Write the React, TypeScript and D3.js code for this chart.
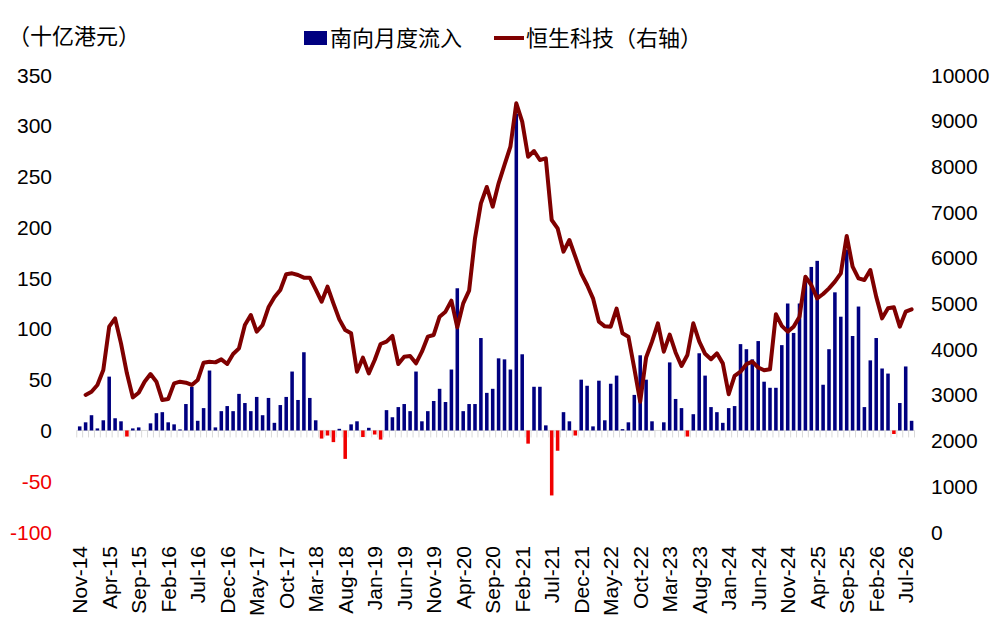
import * as d3 from "d3";

// 月份：Nov-14 起，共 142 个月
const startMonth = new Date(2014, 10, 1);
const monthCount = 142;
const months = d3.range(monthCount).map((i) => d3.timeMonth.offset(startMonth, i));
const fmtMonth = d3.timeFormat("%b-%y");

// 南向月度流入（十亿港元）
const flows = [
  4, 8, 15, 2, 10, 53, 12, 9, -6, 2, 3, 0, 7, 17, 18, 8, 6, 1, 26, 43,
  9.5, 22, 59, 3, 19, 24, 19, 36, 27, 19, 33, 15, 32, 7.5, 25, 33, 58, 30, 77, 32,
  10, -8, -5, -11.5, 1.6, -28, 6, 9, -6.5, 2.6, -4, -9, 20, 13, 23, 26, 19, 58, 9, 19,
  29, 41, 28, 60, 140, 19, 26, 26, 91, 37, 41, 71, 70, 60, 312, 75, -13, 43, 43, 5,
  -64, -20, 18, 9, -5, 50, 44, 4, 49, 10, 46, 54, 1.3, 8, 35, 74, 50, 9, 0, 8,
  67, 31, 22, -6, 16, 76, 54, 23, 18, 7.5, 22, 24, 85, 80, 70, 88, 48, 42, 42, 84,
  125, 96, 125, 146, 161, 167, 45, 80, 136, 112, 178, 93, 122, 23, 69, 91, 61, 56, -3.5, 27,
  63, 9.5,
];

// 恒生科技指数（右轴），首月无数据
const hstech: (number | null)[] = [
  null, 3000, 3070, 3217, 3545, 4493, 4675, 4128, 3472, 2946, 3048, 3289, 3457, 3289, 2888, 2910, 3253, 3289, 3268, 3217,
  3326, 3705, 3727, 3712, 3778, 3676, 3895, 4019, 4530, 4748, 4384, 4530, 4916, 5135, 5295, 5640, 5660, 5624, 5565, 5565,
  5310, 5039, 5368, 5003, 4653, 4420, 4347, 3508, 3815, 3472, 3764, 4114, 4165, 4289, 3676, 3836, 3851, 3691, 3946, 4274,
  4311, 4712, 4821, 5062, 4478, 5003, 5280, 6426, 7192, 7550, 7119, 7630, 8031, 8432, 9380, 8979, 8212, 8337, 8140, 8176,
  6827, 6645, 6134, 6390, 6025, 5660, 5405, 5113, 4602, 4500, 4493, 4887, 4347, 4274, 3581, 2852, 3820, 4165, 4566, 3946,
  4318, 3928, 3632, 3873, 4566, 4172, 3900, 3780, 3910, 3690, 3016, 3417, 3508, 3672, 3727, 3600, 3538, 3563, 4766, 4511,
  4384, 4493, 4712, 5587, 5405, 5113, 5208, 5332, 5478, 5660, 6477, 5806, 5551, 5514, 5733, 5150, 4675, 4894, 4916, 4493,
  4821, 4872,
];

const leftTicks = [350, 300, 250, 200, 150, 100, 50, 0, -50, -100];
const rightTicks = [10000, 9000, 8000, 7000, 6000, 5000, 4000, 3000, 2000, 1000, 0];

const width = 1005;
const height = 634;
const plot = { left: 76.75, right: 914.55, top: 75, bottom: 532 };
const font = "'Liberation Sans', Arial, 'Noto Sans CJK SC', sans-serif";
const cjkFont = "'Noto Sans CJK SC', 'Liberation Sans', sans-serif";

const navy = "#000080";
const red = "#f00000";
const lineColor = "#7f0000";

export default function App() {
  const x = d3
    .scaleBand<number>()
    .domain(d3.range(monthCount))
    .range([plot.left, plot.right])
    .padding(0);
  const yL = d3.scaleLinear().domain([-100, 350]).range([plot.bottom, plot.top]);
  const yR = d3.scaleLinear().domain([0, 10000]).range([plot.bottom, plot.top]);

  const step = x.step();
  const barW = step * 0.6;
  const cx = (i: number) => (x(i) ?? 0) + step / 2;

  const line = d3
    .line<number | null>()
    .defined((d) => d != null)
    .x((_, i) => cx(i))
    .y((d) => yR(d as number));

  return (
    <div style={{ position: "absolute", left: 0, top: 0 }}>
      <svg width={width} height={height} style={{ display: "block", background: "#fff" }}>
        {/* 单位 */}
        <text x={8} y={44} fontFamily={cjkFont} fontSize={22} fill="#000">
          （十亿港元）
        </text>

        {/* 图例 */}
        <rect x={304} y={31} width={23} height={14} fill={navy} />
        <text x={330} y={46} fontFamily={cjkFont} fontSize={22} fill="#000">
          南向月度流入
        </text>
        <line x1={494} x2={524} y1={38} y2={38} stroke={lineColor} strokeWidth={4} />
        <text x={526} y={46} fontFamily={cjkFont} fontSize={22} fill="#000">
          恒生科技（右轴）
        </text>

        {/* 左轴刻度 */}
        {leftTicks.map((t) => (
          <text
            key={"l" + t}
            x={52}
            y={yL(t)}
            dy="0.36em"
            textAnchor="end"
            fontFamily={font}
            fontSize={21}
            fill={t < 0 ? red : "#000"}
          >
            {t}
          </text>
        ))}

        {/* 右轴刻度 */}
        {rightTicks.map((t) => (
          <text
            key={"r" + t}
            x={931}
            y={yR(t)}
            dy="0.36em"
            textAnchor="start"
            fontFamily={font}
            fontSize={21}
            fill="#000"
          >
            {t}
          </text>
        ))}

        {/* 零轴与月度刻度 */}
        <line x1={plot.left} x2={plot.right} y1={yL(0)} y2={yL(0)} stroke="#d9d9d9" strokeWidth={1} />
        {d3.range(monthCount + 1).map((i) => {
          const tx = plot.left + i * step;
          return (
            <line key={"t" + i} x1={tx} x2={tx} y1={yL(0)} y2={yL(0) + 7} stroke="#d9d9d9" strokeWidth={1} />
          );
        })}

        {/* 柱 */}
        {flows.map((v, i) => (
          <rect
            key={"b" + i}
            x={cx(i) - barW / 2}
            y={Math.min(yL(v), yL(0))}
            width={barW}
            height={Math.abs(yL(v) - yL(0))}
            fill={v < 0 ? red : navy}
          />
        ))}

        {/* 恒生科技 */}
        <path
          d={line(hstech) ?? ""}
          fill="none"
          stroke={lineColor}
          strokeWidth={4}
          strokeLinejoin="round"
          strokeLinecap="round"
        />

        {/* X 轴标签 */}
        {months.map((m, i) =>
          i % 5 === 0 ? (
            <text
              key={"x" + i}
              transform={`translate(${cx(i)},546) rotate(-90)`}
              textAnchor="end"
              dominantBaseline="central"
              fontFamily={font}
              fontSize={21}
              fill="#000"
            >
              {fmtMonth(m)}
            </text>
          ) : null
        )}
      </svg>
    </div>
  );
}
